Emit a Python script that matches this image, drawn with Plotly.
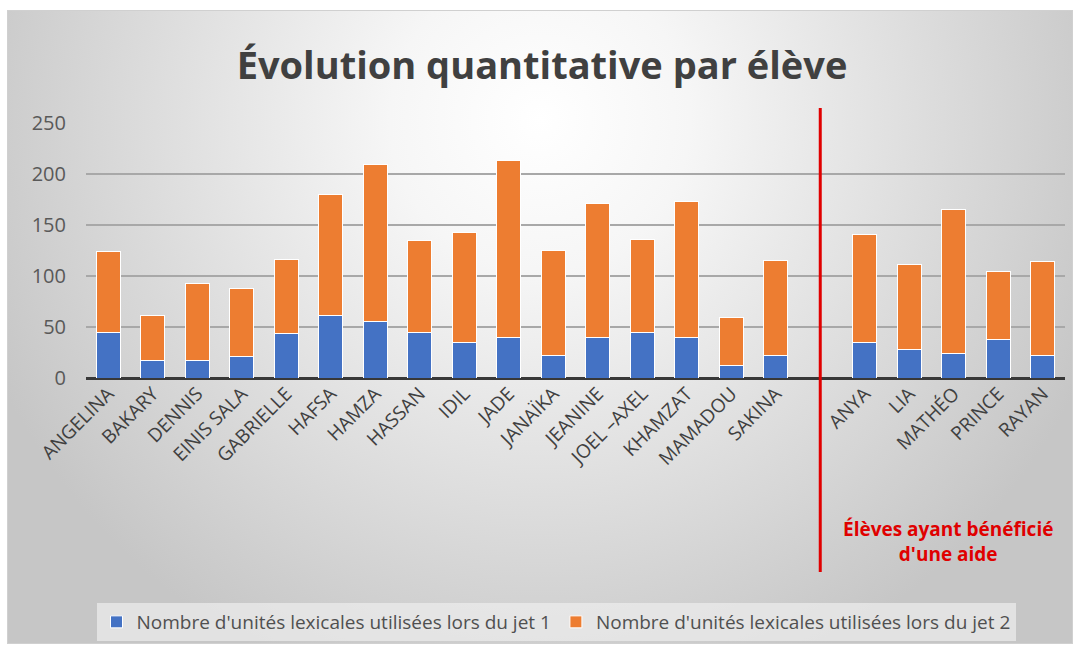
import base64
import plotly.graph_objects as go

# ---- data ----
students = ["ANGELINA", "BAKARY", "DENNIS", "EINIS SALA", "GABRIELLE", "HAFSA", "HAMZA",
            "HASSAN", "IDIL", "JADE", "JANAÏKA", "JEANINE", "JOEL –AXEL", "KHAMZAT",
            "MAMADOU", "SAKINA"]
gap = " "
helped = ["ANYA", "LIA", "MATHÉO", "PRINCE", "RAYAN"]
categories = students + [gap] + helped

jet1_students = [45, 17, 17, 21, 44, 61, 55, 45, 35, 40, 22, 40, 45, 40, 12, 22]
jet2_students = [79, 44, 76, 67, 72, 119, 154, 90, 108, 173, 103, 131, 91, 133, 47, 93]
jet1_helped = [35, 28, 24, 38, 22]
jet2_helped = [106, 83, 141, 66, 92]

jet1 = jet1_students + [None] + jet1_helped
jet2 = jet2_students + [None] + jet2_helped

name1 = "Nombre d'unités lexicales utilisées lors du jet 1"
name2 = "Nombre d'unités lexicales utilisées lors du jet 2"
title = "Évolution quantitative par élève"
note = "Élèves ayant bénéficié<br>d'une aide"
yticks = [0, 50, 100, 150, 200, 250]

# ---- layout geometry ----
W, H = 1081, 652
L, R, T, B = 86, 16, 123, 274
pw, ph = W - L - R, H - T - B

def px_x(px):
    return (px - L) / pw

def px_y(py):
    return (H - B - py) / ph

# background gradient (SVG data URI)
bw, bh = 1066, 634
svg = (f'<svg xmlns="http://www.w3.org/2000/svg" width="{bw}" height="{bh}">'
       '<defs><radialGradient id="g" gradientUnits="userSpaceOnUse" cx="533" cy="110" r="600">'
       '<stop offset="0" stop-color="#ffffff"/><stop offset="0.25" stop-color="#f6f6f6"/>'
       '<stop offset="1" stop-color="#c6c6c6"/></radialGradient></defs>'
       f'<rect x="0.5" y="0.5" width="{bw-1}" height="{bh-1}" fill="url(#g)" stroke="#d0d0d0"/></svg>')
src = "data:image/svg+xml;base64," + base64.b64encode(svg.encode("utf-8")).decode()

FONT = "Open Sans"

fig = go.Figure()
fig.add_trace(go.Bar(x=categories, y=jet1, name=name1,
                     marker=dict(color="#4472C4", line=dict(color="#ffffff", width=1))))
fig.add_trace(go.Bar(x=categories, y=jet2, name=name2,
                     marker=dict(color="#ED7D31", line=dict(color="#ffffff", width=1))))

gap_idx = categories.index(gap)
fig.add_shape(type="line", xref="x", yref="paper", x0=gap_idx, x1=gap_idx,
              y0=px_y(572), y1=px_y(108), line=dict(color="#E00000", width=3))

fig.add_annotation(text=note, xref="paper", yref="paper", x=px_x(948), y=px_y(541),
                   showarrow=False, align="center", xanchor="center", yanchor="middle",
                   font=dict(family=FONT, size=19, color="#E00000", weight="bold"))

fig.add_layout_image(dict(source=src, xref="paper", yref="paper",
                          x=px_x(7), y=px_y(10), sizex=bw / pw, sizey=bh / ph,
                          xanchor="left", yanchor="top", sizing="stretch", layer="below"))

fig.update_layout(
    width=W, height=H,
    margin=dict(l=L, r=R, t=T, b=B, autoexpand=False),
    paper_bgcolor="#ffffff", plot_bgcolor="rgba(0,0,0,0)",
    barmode="stack", bargap=0.46,
    title=dict(text=title, x=542 / W, xanchor="center", y=1 - 66 / H, yanchor="middle",
               font=dict(family=FONT, size=38, color="#404040", weight="bold")),
    xaxis=dict(type="category", categoryorder="array", categoryarray=categories,
               tickangle=-45, tickfont=dict(family=FONT, size=19, color="#404040"),
               showgrid=False, ticks="", range=[-0.5, len(categories) - 0.5]),
    yaxis=dict(range=[0, 250], tickvals=yticks, showgrid=True, gridcolor="#a8a8a8",
               gridwidth=1.5, zeroline=True, zerolinecolor="#383838", zerolinewidth=3,
               tickfont=dict(family=FONT, size=20, color="#595959"), ticks="",
               ticklabelstandoff=19),
    legend=dict(orientation="h", x=px_x(556), xanchor="center", y=px_y(603), yanchor="top",
                bgcolor="rgba(238,238,238,0.7)", font=dict(family=FONT, size=19, color="#505050"),
                itemwidth=30, traceorder="normal"),
    showlegend=True,
)

fig.write_html("out.html", config={"displayModeBar": False},
               post_script="document.body.style.margin='0px';")
